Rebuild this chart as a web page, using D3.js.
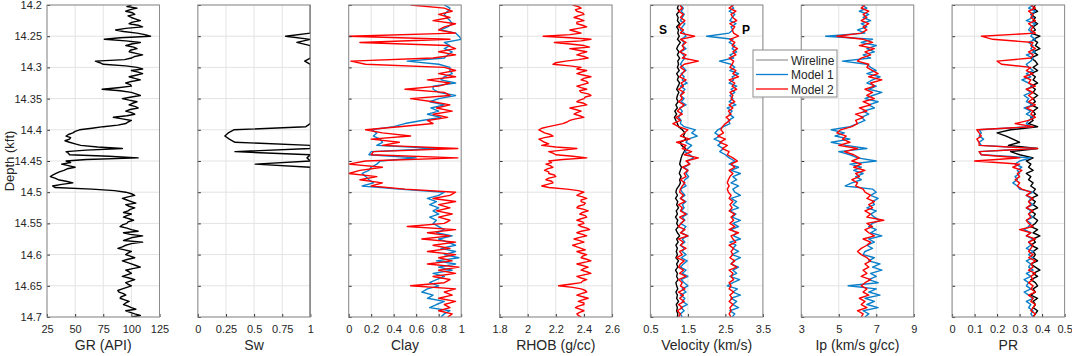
<!DOCTYPE html>
<html><head><meta charset="utf-8">
<script src="https://cdn.jsdelivr.net/npm/d3@7"></script>
<style>body{margin:0;background:#fff;} svg{display:block;font-family:Arial,"Liberation Sans",Helvetica,sans-serif;}</style>
</head><body><svg id="c" width="1072" height="356"></svg>
<script>
// ---------------- DATA ----------------
const depthTicks = [14.2,14.25,14.3,14.35,14.4,14.45,14.5,14.55,14.6,14.65,14.7];
const depthTickLabels = ["14.2","14.25","14.3","14.35","14.4","14.45","14.5","14.55","14.6","14.65","14.7"];
// sampling grids: 14.200 to 14.700 kft (coarse: every 0.005, fine: every 0.0025)
const depth = d3.range(101).map(i => +(14.2 + i * 0.005).toFixed(4));
const depthFine = d3.range(201).map(i => +(14.2 + i * 0.0025).toFixed(4));

const GR = [100,96,105,99,95,101,103,97,100,104,108,101,98,106,110,95,86,93,105,112,
  117,90,76,95,108,100,95,102,105,99,98,104,110,103,100,94,68,72,75,95,
  105,110,100,106,110,104,98,103,108,100,95,99,100,88,74,90,100,104,108,100,
  92,98,105,101,98,103,106,99,95,100,103,96,84,92,100,97,95,88,75,65,
  54,50,48,44,42,46,45,41,45,50,55,70,92,60,42,44,45,80,106,60,
  42,46,38,44,50,43,40,36,33,30,28,32,35,42,48,38,30,32,65,85,
  95,100,103,97,92,96,100,104,95,98,103,99,97,93,100,96,93,98,102,97,
  96,92,90,96,100,106,93,99,110,101,97,93,110,100,95,92,88,94,100,97,
  95,99,103,97,92,96,100,104,108,101,95,98,100,96,92,98,103,99,95,97,
  100,96,92,88,89,93,95,91,90,94,98,95,93,97,100,104,95,99,103,108,
  100];

const Sw = [1,1,1,1,1,1,1,1,1,1,
  0.78,1,0.88,1,1,1,1,1,0.95,1,
  1,1,1,1,1,1,1,1,1,1,
  1,1,1,1,1,1,1,1,1,0.96,
  0.32,0.27,0.24,0.28,0.33,1,1,0.33,1,0.97,
  1,0.51,1,1,1,1,1,1,1,1,
  1,1,1,1,1,1,1,1,1,1,
  1,1,1,1,1,1,1,1,1,1,
  1,1,1,1,1,1,1,1,1,1,
  1,1,1,1,1,1,1,1,1,1,
  1];

const clayModel1 = [0.85,0.9,0.88,0.85,0.87,0.9,0.92,0.88,0.82,0.95,
  0.98,1.0,0.85,0.9,0.85,0.92,0.88,0.85,0.52,0.8,
  0.9,0.9,0.92,0.85,0.82,0.95,0.75,0.75,0.8,0.95,
  0.8,0.72,0.85,0.73,0.8,0.7,0.82,0.65,0.5,0.4,
  0.2,0.25,0.22,0.28,0.3,0.25,0.8,0.2,0.18,0.6,
  0.28,0.25,0.2,0.18,0.12,0.15,0.18,0.22,0.12,0.45,
  0.85,0.8,0.7,0.78,0.72,0.8,0.75,0.8,0.72,0.78,
  0.75,0.8,0.85,0.78,0.92,0.8,0.88,0.95,0.82,0.95,
  0.85,0.98,0.78,0.95,0.8,0.92,0.75,0.85,0.78,0.72,
  0.8,0.7,0.65,0.75,0.7,0.85,0.78,0.72,0.9,0.85,
  0.82];
const clayModel2 = [0.55,0.85,0.92,0.8,0.9,0.75,0.95,0.85,0.8,0.95,
  0.0,0.9,0.1,0.88,0.95,0.8,0.95,0.75,0.02,0.15,
  0.85,0.95,0.8,0.95,0.7,0.9,0.8,0.5,0.85,0.9,
  0.55,0.75,0.9,0.78,0.92,0.75,0.88,0.7,0.75,0.45,
  0.15,0.3,0.55,0.2,0.45,0.3,0.97,0.22,0.2,0.97,
  0.15,0.0,0.3,0.1,0.0,0.25,0.1,0.3,0.2,0.5,
  0.95,0.9,0.75,0.95,0.8,0.9,0.78,0.92,0.8,0.9,
  0.85,0.52,0.95,0.7,0.9,0.65,0.95,0.75,0.9,0.7,
  0.95,0.8,0.92,0.7,0.98,0.8,0.95,0.75,0.9,0.85,
  0.55,0.95,0.85,0.92,0.8,0.95,0.85,0.9,0.8,0.92,
  0.88];

const RHOB = [2.32,2.36,2.38,2.34,2.35,2.39,2.4,2.36,2.33,2.37,2.4,2.35,2.35,2.39,2.42,2.36,2.3,2.34,2.38,2.3,
  2.11,2.3,2.45,2.38,2.19,2.3,2.4,2.44,2.3,2.36,2.42,2.38,2.35,2.4,2.43,2.36,2.27,2.2,2.18,2.3,
  2.38,2.35,2.42,2.38,2.35,2.4,2.45,2.4,2.38,2.42,2.43,2.39,2.35,2.38,2.42,2.37,2.38,2.43,2.45,2.41,
  2.4,2.37,2.35,2.4,2.42,2.36,2.3,2.34,2.38,2.35,2.33,2.37,2.4,2.34,2.3,2.28,2.25,2.2,2.15,2.1,
  2.08,2.1,2.12,2.16,2.18,2.12,2.08,2.1,2.12,2.15,2.1,2.2,2.35,2.25,2.15,2.18,2.2,2.32,2.42,2.25,
  2.15,2.17,2.13,2.16,2.18,2.14,2.12,2.15,2.15,2.19,2.2,2.15,2.13,2.17,2.18,2.14,2.1,2.15,2.28,2.36,
  2.4,2.37,2.35,2.39,2.42,2.38,2.38,2.41,2.4,2.36,2.35,2.4,2.43,2.39,2.37,2.41,2.42,2.38,2.35,2.39,
  2.4,2.36,2.38,2.42,2.44,2.38,2.35,2.39,2.42,2.37,2.33,2.37,2.4,2.36,2.32,2.35,2.38,2.41,2.35,2.38,
  2.42,2.39,2.38,2.42,2.45,2.4,2.35,2.39,2.43,2.4,2.38,2.42,2.45,2.4,2.35,2.38,2.42,2.39,2.38,2.3,
  2.22,2.32,2.38,2.41,2.42,2.38,2.35,2.39,2.43,2.39,2.36,2.4,2.4,2.36,2.34,2.37,2.4,2.37,2.35,2.36,
  2.38];

const VsWireline = [1.25,1.22,1.27,1.2,1.24,1.22,1.28,1.2,1.25,1.23,
  1.27,1.22,1.3,1.24,1.2,1.26,1.22,1.28,1.23,1.25,
  1.22,1.27,1.2,1.25,1.22,1.28,1.24,1.2,1.26,1.22,
  1.2,1.24,1.18,1.22,1.15,1.2,1.14,1.18,1.22,1.25,
  1.35,1.42,1.38,1.45,1.3,1.33,1.44,1.4,1.35,1.32,
  1.3,1.28,1.33,1.3,1.27,1.32,1.28,1.3,1.26,1.2,
  1.18,1.22,1.17,1.23,1.2,1.25,1.19,1.22,1.17,1.23,
  1.2,1.25,1.18,1.22,1.28,1.2,1.24,1.18,1.22,1.19,
  1.22,1.18,1.25,1.2,1.23,1.17,1.22,1.2,1.24,1.18,
  1.2,1.23,1.18,1.22,1.2,1.25,1.19,1.22,1.2,1.23,
  1.22];
const VsModel1 = [1.3,1.38,1.32,1.4,1.35,1.3,1.42,1.35,1.3,1.4,
  1.45,1.32,1.4,1.35,1.45,1.3,1.38,1.42,1.35,1.3,
  1.38,1.45,1.32,1.4,1.35,1.48,1.3,1.42,1.35,1.3,
  1.4,1.32,1.45,1.28,1.35,1.3,1.25,1.32,1.3,1.4,
  1.7,1.6,1.75,1.5,1.45,1.6,1.5,1.42,1.55,1.65,
  1.48,1.55,1.4,1.5,1.45,1.52,1.42,1.38,1.45,1.3,
  1.35,1.42,1.3,1.45,1.35,1.4,1.32,1.48,1.35,1.42,
  1.3,1.45,1.38,1.32,1.5,1.35,1.42,1.3,1.4,1.35,
  1.45,1.32,1.48,1.38,1.3,1.45,1.35,1.5,1.32,1.4,
  1.5,1.35,1.45,1.3,1.42,1.35,1.48,1.32,1.4,1.3,
  1.35];
const VsModel2 = [1.28,1.35,1.25,1.38,1.3,1.42,1.32,1.25,1.38,1.3,
  1.68,1.3,1.45,1.35,1.4,1.28,1.45,1.35,1.78,1.4,
  1.3,1.42,1.35,1.28,1.45,1.32,1.38,1.25,1.4,1.3,
  1.35,1.25,1.4,1.3,1.22,1.35,1.18,1.3,1.1,1.25,
  1.5,1.4,1.3,1.55,1.2,1.45,1.35,1.6,1.4,1.78,
  1.45,1.55,1.35,1.5,1.4,1.45,1.3,1.42,1.35,1.3,
  1.28,1.38,1.3,1.42,1.25,1.35,1.3,1.45,1.28,1.4,
  1.32,1.25,1.42,1.3,1.5,1.25,1.38,1.3,1.45,1.28,
  1.35,1.2,1.4,1.3,1.25,1.38,1.28,1.45,1.25,1.35,
  1.3,1.42,1.25,1.38,1.28,1.4,1.25,1.35,1.22,1.3,
  1.25];

const VpModel1 = [2.65,2.72,2.6,2.75,2.68,2.62,2.78,2.65,2.7,2.6,
  2.0,2.7,2.6,2.75,2.68,2.8,2.62,2.72,2.34,2.65,
  2.75,2.62,2.85,2.68,2.72,2.6,2.8,2.65,2.75,2.62,
  2.7,2.6,2.78,2.55,2.68,2.6,2.72,2.58,2.62,2.45,
  2.3,2.22,2.35,2.2,2.4,2.3,2.45,2.35,2.5,2.6,
  2.75,2.6,2.85,2.65,2.9,2.7,2.8,2.65,2.85,2.7,
  2.75,2.9,2.65,2.8,2.7,2.85,2.62,2.78,2.68,2.9,
  2.7,2.85,2.65,2.8,2.72,2.9,2.62,2.78,2.7,2.85,
  2.68,2.9,2.72,2.65,2.85,2.7,2.8,2.62,2.88,2.7,
  2.55,2.82,2.7,2.9,2.65,2.8,2.7,2.85,2.62,2.75,
  2.68];
const VpModel2 = [2.72,2.6,2.78,2.65,2.7,2.8,2.62,2.75,2.68,2.72,
  2.85,2.62,2.75,2.68,2.82,2.7,2.78,2.6,2.72,2.68,
  2.62,2.78,2.7,2.85,2.6,2.75,2.68,2.8,2.62,2.7,
  2.65,2.75,2.6,2.7,2.58,2.65,2.52,2.62,2.5,2.42,
  2.38,2.45,2.3,2.5,2.35,2.55,2.42,2.6,2.55,2.7,
  2.82,2.65,2.75,2.6,2.7,2.62,2.58,2.55,2.6,2.55,
  2.58,2.65,2.6,2.7,2.62,2.68,2.6,2.75,2.65,2.72,
  2.62,2.75,2.6,2.85,2.65,2.7,2.78,2.6,2.72,2.65,
  2.7,2.62,2.75,2.65,2.8,2.6,2.7,2.65,2.72,2.6,
  2.65,2.6,2.72,2.62,2.68,2.6,2.7,2.62,2.65,2.6,
  2.65];

const IpModel1 = [6.2,6.5,6.1,6.6,6.3,6.7,6.2,6.5,6.0,6.4,
  4.3,6.8,6.2,7.0,6.5,6.9,6.3,6.7,5.2,6.5,
  6.7,7.0,6.5,7.2,6.8,6.5,7.0,6.6,7.3,6.8,
  6.4,7.1,6.6,6.9,6.3,6.6,6.2,6.4,6.0,5.6,
  4.6,5.3,4.8,5.6,4.6,5.4,6.5,5.0,5.6,6.0,
  7.0,5.6,6.2,5.8,6.3,5.9,6.2,5.7,5.35,6.8,
  7.0,6.7,7.1,6.8,6.9,6.5,7.0,6.7,6.9,7.2,
  6.8,6.6,7.0,6.7,7.3,6.6,6.9,6.5,6.8,6.4,
  6.3,6.9,6.6,7.2,6.8,7.3,6.7,7.0,6.6,7.1,
  5.5,7.0,6.6,7.2,6.4,6.9,6.5,7.1,6.3,6.6,
  6.4];
const IpModel2 = [6.4,6.2,6.6,6.3,6.5,6.2,6.6,6.3,6.5,6.2,
  4.9,6.3,6.8,6.1,6.9,6.4,6.7,6.2,6.0,6.6,
  6.5,6.8,7.1,6.6,7.3,6.7,6.9,6.4,6.8,6.5,
  6.9,6.3,6.7,6.1,6.5,5.9,6.3,5.9,6.0,5.7,
  5.1,4.9,5.4,5.2,5.6,5.0,6.0,5.3,5.8,6.1,
  5.7,6.2,5.8,6.4,5.9,6.1,5.7,6.0,5.9,6.3,
  6.4,6.7,6.5,6.9,6.6,6.8,6.4,6.7,6.5,7.4,
  6.5,6.8,6.4,6.6,6.9,6.3,6.7,6.5,6.2,6.0,
  6.2,6.5,6.7,6.4,6.6,6.3,6.5,6.2,6.7,6.4,
  6.2,6.5,6.3,6.6,6.1,6.4,6.2,6.5,6.0,6.3,
  6.2];

const PRWireline = [0.37,0.36,0.38,0.35,0.37,0.36,0.38,0.36,0.37,0.35,
  0.39,0.36,0.38,0.37,0.39,0.36,0.38,0.35,0.37,0.38,
  0.36,0.38,0.35,0.37,0.36,0.38,0.35,0.37,0.36,0.38,
  0.36,0.37,0.35,0.38,0.36,0.37,0.35,0.36,0.34,0.38,
  0.26,0.2,0.24,0.27,0.3,0.25,0.38,0.26,0.3,0.36,
  0.33,0.35,0.34,0.36,0.33,0.35,0.34,0.36,0.35,0.37,
  0.36,0.38,0.35,0.37,0.36,0.38,0.35,0.37,0.36,0.38,
  0.37,0.35,0.38,0.36,0.39,0.36,0.37,0.35,0.38,0.36,
  0.37,0.36,0.38,0.35,0.37,0.39,0.36,0.38,0.35,0.37,
  0.38,0.36,0.37,0.35,0.38,0.36,0.37,0.36,0.38,0.37,
  0.36];
const PRModel1 = [0.36,0.34,0.37,0.35,0.36,0.33,0.37,0.35,0.34,0.36,
  0.35,0.37,0.34,0.36,0.35,0.37,0.33,0.36,0.35,0.33,
  0.34,0.36,0.33,0.35,0.31,0.34,0.36,0.33,0.35,0.32,
  0.34,0.33,0.36,0.32,0.35,0.33,0.36,0.34,0.33,0.35,
  0.12,0.13,0.12,0.14,0.12,0.13,0.37,0.12,0.13,0.35,
  0.3,0.28,0.31,0.29,0.3,0.28,0.29,0.27,0.29,0.3,
  0.36,0.33,0.35,0.34,0.36,0.33,0.35,0.34,0.36,0.33,
  0.35,0.34,0.32,0.35,0.33,0.36,0.34,0.35,0.33,0.36,
  0.34,0.36,0.33,0.35,0.34,0.36,0.33,0.35,0.32,0.34,
  0.33,0.35,0.32,0.34,0.36,0.33,0.35,0.34,0.36,0.35,
  0.36];
const PRModel2 = [0.35,0.37,0.34,0.36,0.35,0.37,0.34,0.36,0.35,0.37,
  0.13,0.18,0.36,0.35,0.37,0.34,0.36,0.35,0.2,0.22,
  0.35,0.33,0.36,0.32,0.35,0.34,0.37,0.33,0.36,0.34,
  0.36,0.34,0.37,0.33,0.36,0.35,0.37,0.34,0.28,0.36,
  0.11,0.12,0.13,0.11,0.12,0.12,0.38,0.12,0.13,0.3,
  0.1,0.3,0.27,0.31,0.29,0.3,0.28,0.3,0.29,0.31,
  0.35,0.33,0.36,0.34,0.35,0.33,0.36,0.34,0.35,0.33,
  0.34,0.36,0.3,0.35,0.33,0.37,0.34,0.36,0.35,0.34,
  0.36,0.34,0.37,0.35,0.36,0.34,0.37,0.35,0.36,0.34,
  0.36,0.35,0.37,0.34,0.36,0.35,0.37,0.36,0.35,0.37,
  0.36];

const legendLabels = ["Wireline","Model 1","Model 2"];

// ---------------- STYLE / LAYOUT ----------------
const C_W = "#000000", C_M1 = "#0a7fca", C_M2 = "#ff0000";
const panels = [
  {title:"GR (API)", domain:[25,125], ticks:[25,50,75,100,125], series:[[GR,C_W,depthFine]]},
  {title:"Sw", domain:[0,1], ticks:[0,0.25,0.5,0.75,1], series:[[Sw,C_W]]},
  {title:"Clay", domain:[0,1], ticks:[0,0.2,0.4,0.6,0.8,1], series:[[clayModel1,C_M1],[clayModel2,C_M2]]},
  {title:"RHOB (g/cc)", domain:[1.8,2.6], ticks:[1.8,2,2.2,2.4,2.6], series:[[RHOB,C_M2,depthFine]]},
  {title:"Velocity (km/s)", domain:[0.5,3.5], ticks:[0.5,1.5,2.5,3.5],
    series:[[VsWireline,C_W],[VsModel1,C_M1],[VpModel1,C_M1],[VsModel2,C_M2],[VpModel2,C_M2]]},
  {title:"Ip (km/s g/cc)", domain:[3,9], ticks:[3,5,7,9], series:[[IpModel1,C_M1],[IpModel2,C_M2]]},
  {title:"PR", domain:[0,0.5], ticks:[0,0.1,0.2,0.3,0.4,0.5], series:[[PRWireline,C_W],[PRModel1,C_M1],[PRModel2,C_M2]]}
];

const svg = d3.select("#c");
const yTop = 5, yBot = 317, left0 = 47, step = 150.85, pw = 112.5;
const y = d3.scaleLinear().domain([14.2,14.7]).range([yTop,yBot]);
const defs = svg.append("defs");
const FONT = "Arial, 'Liberation Sans', sans-serif";

panels.forEach((p,i) => {
  const x0 = left0 + i*step;
  const x = d3.scaleLinear().domain(p.domain).range([x0, x0+pw]);
  const g = svg.append("g");
  g.append("rect").attr("x",x0).attr("y",yTop).attr("width",pw).attr("height",yBot-yTop).attr("fill","#fff");
  // grid
  g.selectAll(".vg").data(p.ticks).join("line")
    .attr("x1",d=>x(d)).attr("x2",d=>x(d)).attr("y1",yTop).attr("y2",yBot)
    .attr("stroke","#e3e3e3").attr("stroke-width",1);
  g.selectAll(".hg").data(depthTicks).join("line")
    .attr("x1",x0).attr("x2",x0+pw).attr("y1",d=>y(d)).attr("y2",d=>y(d))
    .attr("stroke","#e3e3e3").attr("stroke-width",1);
  // clip
  defs.append("clipPath").attr("id","cp"+i).append("rect")
    .attr("x",x0).attr("y",yTop).attr("width",pw).attr("height",yBot-yTop);
  const lg = g.append("g").attr("clip-path","url(#cp"+i+")");
  p.series.forEach(([vals,col,dgrid]) => {
    const dg = dgrid || depth;
    const line = d3.line().x(d=>x(d[1])).y(d=>y(d[0]));
    lg.append("path").datum(dg.map((dd,k)=>[dd,vals[k]]))
      .attr("d",line).attr("fill","none").attr("stroke",col)
      .attr("stroke-width",1.4).attr("stroke-linejoin","round");
  });
  // bottom axis
  const ax = g.append("g").attr("transform",`translate(0,${yBot})`)
    .call(d3.axisBottom(x).tickValues(p.ticks).tickSize(-3).tickPadding(8).tickFormat(d=>String(d)));
  ax.select(".domain").remove();
  ax.selectAll("line").attr("stroke","#333");
  ax.selectAll("text").attr("font-size",11).attr("fill","#262626").attr("font-family",FONT);
  // left ticks (inward)
  const ay = g.append("g").attr("transform",`translate(${x0},0)`)
    .call(d3.axisLeft(y).tickValues(depthTicks).tickSize(-3).tickFormat((d,k)=> i===0 ? depthTickLabels[k] : ""));
  ay.select(".domain").remove();
  ay.selectAll("line").attr("stroke","#333");
  ay.selectAll("text").attr("font-size",11).attr("fill","#262626").attr("x",-5).attr("font-family",FONT);
  // box
  g.append("rect").attr("x",x0).attr("y",yTop).attr("width",pw).attr("height",yBot-yTop)
    .attr("fill","none").attr("stroke","#8c8c8c").attr("stroke-width",1);
  // title
  g.append("text").attr("x",x0+pw/2).attr("y",350).attr("text-anchor","middle")
    .attr("font-size",14).attr("fill","#262626").text(p.title);
});

// depth label
svg.append("text").attr("transform","translate(14,161) rotate(-90)")
  .attr("text-anchor","middle").attr("font-size",13).attr("fill","#262626").text("Depth (kft)");

// S / P labels
svg.append("text").attr("x",663).attr("y",34).attr("text-anchor","middle")
  .attr("font-size",12).attr("font-weight","bold").text("S");
svg.append("text").attr("x",746).attr("y",34).attr("text-anchor","middle")
  .attr("font-size",12).attr("font-weight","bold").text("P");

// legend
const leg = svg.append("g");
leg.append("rect").attr("x",753).attr("y",50).attr("width",84).attr("height",47)
  .attr("fill","#fff").attr("stroke","#8c8c8c").attr("stroke-width",1);
const legCols = ["#7f7f7f", C_M1, C_M2];
legendLabels.forEach((lab,k) => {
  const yy = 60 + k*14.5;
  leg.append("line").attr("x1",756).attr("x2",788).attr("y1",yy).attr("y2",yy)
    .attr("stroke",legCols[k]).attr("stroke-width",k===0?1:1.3);
  leg.append("text").attr("x",791).attr("y",yy+4.5).attr("font-size",12).attr("fill","#262626").text(lab);
});
</script></body></html>
